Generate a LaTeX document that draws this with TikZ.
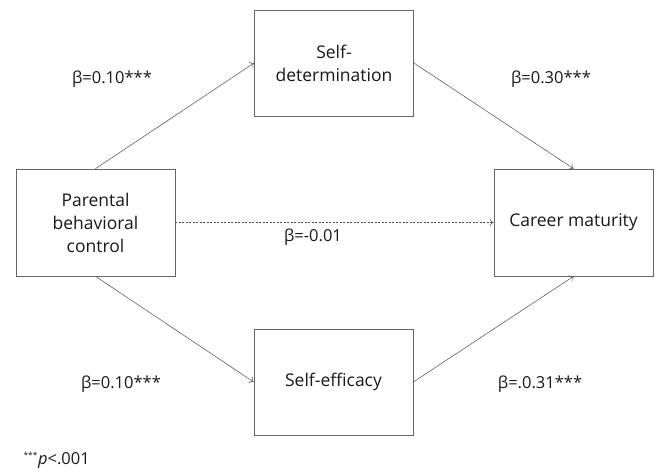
\documentclass[tikz,border=0pt]{standalone}
\usepackage{fontspec}
\setmainfont{Open Sans}
\usetikzlibrary{arrows.meta}
\begin{document}
\begin{tikzpicture}[x=1pt,y=-1pt,
  box/.style={draw=black!60, line width=0.7pt, minimum width=159pt, minimum height=106pt, align=center, inner sep=0pt, font=\fontsize{17.5}{23}\selectfont, text=black!90},
  conn/.style={draw=black!70, line width=0.5pt, -{To[length=4pt,width=7pt]}},
  lbl/.style={font=\fontsize{16.5}{18}\selectfont, text=black!90}
  ]
  \useasboundingbox (0,0) rectangle (658,471);
  \node[box] (sd) at (334,63) {Self-\\determination};
  \node[box, minimum height=107pt] (pbc) at (95.5,222.5) {Parental\\behavioral\\control};
  \node[box, minimum height=107pt] (cm) at (573.5,222.5) {Career maturity};
  \node[box] (se) at (333.5,382) {Self-efficacy};
  \draw[conn] (pbc.north) -- (sd.west);
  \draw[conn] (sd.east) -- (cm.north);
  \draw[conn] (pbc.south) -- (se.west);
  \draw[conn] (se.east) -- (cm.south);
  \draw[conn, dash pattern=on 2pt off 1.5pt] (pbc.east) -- (cm.west);
  \node[lbl] (l1) at (112,79) {β=0.10***};
  \node[lbl] (l2) at (551,79) {β=0.30***};
  \node[lbl] (l3) at (313,237) {β=-0.01};
  \node[lbl] (l4) at (121,384) {β=0.10***};
  \node[lbl] (l5) at (540,384) {β=.0.31***};
  \node[lbl, anchor=west] (note) at (20,460) {\textsuperscript{\fontsize{8.5}{8.5}\selectfont ***}\textit{p}<.001};
\end{tikzpicture}
\end{document}
